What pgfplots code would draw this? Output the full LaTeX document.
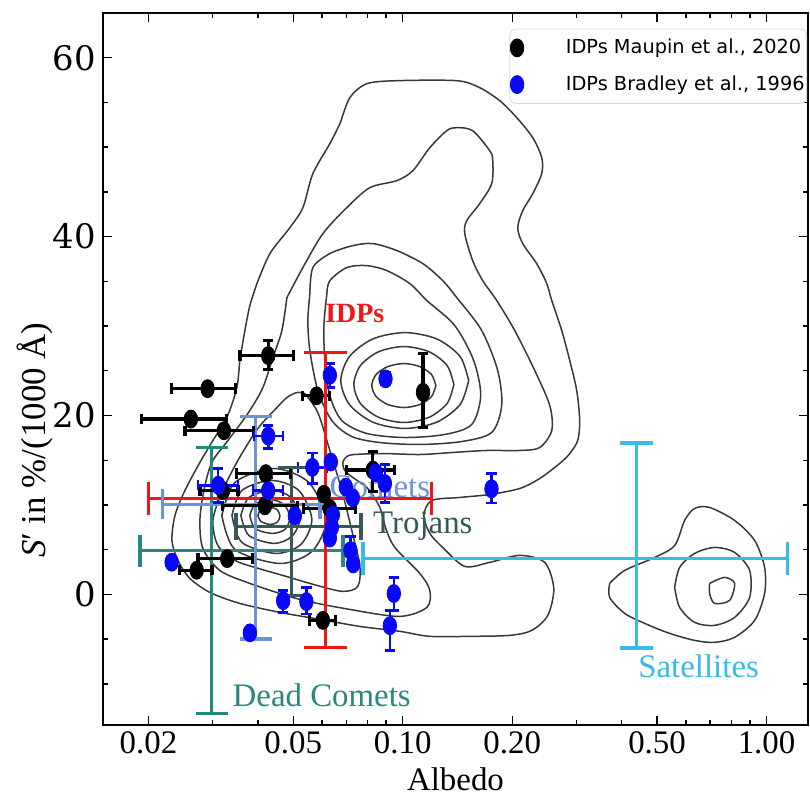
\documentclass[border=0pt]{standalone}
\usepackage{pgfplots}
\usepackage{pgfplotstable}
\pgfplotsset{compat=1.18}
\usepackage{fontspec}
\setmainfont{Liberation Serif}
\newfontfamily\legfont{DejaVu Sans}
\newfontfamily\yfont{DejaVu Serif}
\definecolor{idpred}{RGB}{238,22,22}
\definecolor{cometc}{RGB}{112,146,212}
\definecolor{trojc}{RGB}{55,88,88}
\definecolor{deadc}{RGB}{40,136,128}
\definecolor{satc}{RGB}{58,186,232}
\definecolor{ptblue}{RGB}{8,8,245}

% Maupin et al. 2020: albedo, S', x error minus/plus, y error minus/plus
\pgfplotstableread{
a s exm exp eym eyp
0.04268 26.7 0.0070 0.0073 1.6 1.7
0.02908 23.0 0.00592 0.00571 0 0
0.02616 19.6 0.0070 0.00664 0 0
0.03224 18.3 0.00704 0.00675 0 0
0.04205 13.5 0.00705 0.00721 0 0
0.03204 11.6 0.00434 0.0032 0 0
0.04179 9.9 0.00975 0.00969 0 0
0.05796 22.2 0.00482 0.00508 0 0
0.1137 22.6 0 0 3.9 4.3
0.08278 13.9 0.01258 0.01232 2.4 2.1
0.0607 11.2 0 0 0 0
0.06304 9.6 0.00956 0.01128 0 0
0.02714 2.7 0.00274 0.00275 0 0
0.03292 4.0 0.00556 0.00582 0 0
0.06032 -2.9 0.00476 0.00516 0 0
}\maupin

% Bradley et al. 1996
\pgfplotstableread{
a s exm exp eym eyp
0.06304 24.5 0 0 1.4 1.3
0.08968 24.1 0 0 0.7 0.7
0.04268 17.7 0.00369 0.00416 1.4 1.2
0.0311 12.2 0.00374 0.00414 1.9 1.9
0.04268 11.6 0.00394 0.00424 1.3 1.4
0.05644 14.2 0.00496 0.00542 1.8 1.6
0.06344 14.8 0 0 0 0
0.05052 8.8 0 0 0 0
0.06976 12.0 0 0 0 0
0.07292 10.8 0 0 0 0
0.06426 8.9 0 0 0 0
0.06384 7.5 0 0 0 0
0.06304 6.3 0 0 0 0
0.08434 13.6 0 0 0 0
0.0893 12.4 0 0 2.1 2.1
0.1754 11.8 0 0 1.6 1.7
0.07186 4.9 0 0 0 1.6
0.07306 3.4 0 0 0 0
0.04692 -0.7 0 0 1.3 1.15
0.05434 -0.8 0 0 1.4 1.6
0.0380 -4.3 0 0 0 0
0.02316 3.6 0 0 0 0
0.09452 0.1 0 0 1.9 1.8
0.09216 -3.5 0 0 2.8 1.7
}\bradley

\begin{document}
\begin{tikzpicture}
\begin{axis}[
  name=ax,
  scale only axis,
  width=352.5bp, height=356bp,
  xmode=log,
  xmin=0.015, xmax=1.3, ymin=-14.6, ymax=65,
  xtick={0.02,0.05,0.1,0.2,0.5,1},
  xticklabels={0.02,0.05,0.10,0.20,0.50,1.00},
  minor xtick={0.03,0.04,0.06,0.07,0.08,0.09,0.3,0.4,0.6,0.7,0.8,0.9},
  ytick={0,20,40,60},
  minor ytick={-10,-5,5,10,15,25,30,35,45,50,55,65},
  /pgf/number format/assume math mode=true,
  xticklabel style={font=\fontsize{16.5}{16.5}\selectfont},
  yticklabel style={font=\yfont\fontsize{17}{17}\selectfont},
  xlabel={Albedo},
  xlabel style={font=\fontsize{16.5}{16.5}\selectfont},
  ylabel={\textit{S}′ in \%/(1000 Å)},
  ylabel style={font=\fontsize{17.5}{17.5}\selectfont, at={([xshift=-34bp]rel axis cs:0,0.40)}, anchor=center},
  axis line style={line width=1bp},
  tick style={black, line width=0.7bp},
  major tick length=4.5bp, minor tick length=2.5bp,
  legend style={at={(rel axis cs:0.9986,0.978)}, anchor=north east,
    draw=black!15, rounded corners=3bp, fill=white,
    font=\legfont\fontsize{9.7}{12}\selectfont,
    inner xsep=0bp, inner ysep=4bp, row sep=7.5bp,
    nodes={inner sep=1bp}, cells={anchor=west}},
  legend image code/.code={\path[draw=none,fill=none] (0bp,-5bp) rectangle (27bp,5bp); \draw[#1] plot coordinates {(3.6bp,0bp)};},
  contour/.style={black!78, line width=0.75bp, smooth, tension=0.5, forget plot},
]
\addlegendimage{only marks, mark=*, black, mark size=4.5bp, mark options={xscale=0.75}}
\addlegendentry{IDPs Maupin et al., 2020}
\addlegendimage{only marks, mark=*, ptblue, mark size=4.5bp, mark options={xscale=0.75}}
\addlegendentry{IDPs Bradley et al., 1996}

% ---- density contours (albedo, S') ----
% outermost level
\addplot[contour] coordinates {(0.03974,34.75) (0.04314,38.10) (0.04895,41.00) (0.05315,43.24) (0.05663,47.04) (0.06304,50.39) (0.06716,52.62) (0.07155,55.53) (0.07966,57.09) (0.09633,57.43) (0.1408,57.43) (0.1628,56.65) (0.1848,55.19) (0.2058,53.30) (0.2277,51.06) (0.2410,48.83) (0.2410,47.04) (0.2277,44.80) (0.2137,42.90) (0.2071,41.00) (0.2137,39.22) (0.2335,36.98) (0.2488,34.75) (0.2568,32.85) (0.2736,29.50) (0.2878,26.14) (0.3008,22.79) (0.3065,19.44) (0.3027,17.21) (0.2878,15.75) (0.2701,14.64) (0.2380,12.96) (0.2097,11.84) (0.1734,11.17) (0.1435,10.84) (0.1202,10.50) (0.1143,8.83) (0.1187,6.82) (0.1288,5.25) (0.1481,3.13) (0.1734,3.58) (0.2097,4.36) (0.2456,3.58) (0.2601,0.67) (0.2504,-2.35) (0.2263,-4.02) (0.19685,-4.58) (0.1528,-4.69) (0.1187,-4.69) (0.09818,-4.13) (0.07621,-3.58) (0.05919,-2.79) (0.04596,-2.01) (0.03568,-1.01) (0.02951,0.22) (0.0260,1.79) (0.0241,3.80) (0.02321,6.03) (0.02366,8.83) (0.0252,11.62) (0.0277,14.75) (0.03008,17.21) (0.03286,19.78) (0.03501,23.13) (0.03568,26.14) (0.03683,29.50) (0.03801,32.29) (0.03974,34.75)};
% second level
\addplot[contour] coordinates {(0.04804,33.18) (0.05315,36.54) (0.06033,40.33) (0.0702,43.24) (0.0812,45.47) (0.09633,46.26) (0.1066,47.37) (0.1187,49.94) (0.1321,51.84) (0.1408,52.18) (0.1557,51.84) (0.1734,49.61) (0.1768,48.49) (0.1756,45.92) (0.1628,43.69) (0.1500,41.79) (0.1481,40.33) (0.1557,37.32) (0.1659,35.08) (0.1813,32.85) (0.2032,29.50) (0.2306,25.03) (0.2536,21.12) (0.2568,18.32) (0.2380,16.42) (0.2097,16.09) (0.1702,16.09) (0.1373,15.87) (0.1114,15.64) (0.08816,15.75) (0.07385,15.64) (0.0702,15.42) (0.06845,14.75) (0.06932,13.85) (0.07292,13.07) (0.08018,11.84) (0.0865,9.72) (0.08985,7.37) (0.09512,5.25) (0.1114,2.35) (0.1187,0.45) (0.1165,-1.45) (0.09818,-2.46) (0.07155,-1.68) (0.05215,-0.56) (0.03801,1.23) (0.03143,2.68) (0.02823,5.14) (0.0277,8.27) (0.02841,11.62) (0.02988,14.75) (0.03308,17.21) (0.03753,20.22) (0.04127,23.13) (0.04397,26.48) (0.04654,29.50) (0.04804,33.18)};
% rings of the upper (IDP-like) peak
\addplot[contour] coordinates {(0.05556,33.63) (0.05663,36.54) (0.06304,38.10) (0.07292,38.99) (0.08275,39.22) (0.09633,38.44) (0.1136,36.98) (0.1288,35.08) (0.1408,33.18) (0.1649,29.50) (0.1824,25.03) (0.1871,21.12) (0.1756,18.10) (0.1453,17.09) (0.1114,16.76) (0.0865,16.98) (0.07246,17.65) (0.06384,19.44) (0.05844,22.79) (0.05556,27.26) (0.05486,30.61) (0.05556,33.63)};
\addplot[contour] coordinates {(0.06188,33.63) (0.06304,35.08) (0.0702,36.54) (0.07966,36.76) (0.09043,36.20) (0.1046,34.75) (0.1165,32.85) (0.1390,30.06) (0.1567,26.14) (0.1638,22.23) (0.1547,18.99) (0.1305,17.88) (0.1013,17.54) (0.07966,17.99) (0.06801,19.44) (0.06304,22.23) (0.0611,26.14) (0.06072,30.06) (0.06188,33.63)};
\addplot[contour] coordinates {(0.1518,23.91) (0.1438,26.59) (0.1241,28.56) (0.1013,29.27) (0.08275,28.56) (0.07137,26.59) (0.06758,23.91) (0.07137,21.23) (0.08275,19.26) (0.1013,18.55) (0.1241,19.26) (0.1438,21.23) (0.1518,23.91)};
\addplot[contour] coordinates {(0.1382,23.46) (0.1324,25.59) (0.1180,27.14) (0.1007,27.71) (0.08595,27.14) (0.07655,25.59) (0.07338,23.46) (0.07655,21.34) (0.08595,19.79) (0.1007,19.22) (0.1180,19.79) (0.1324,21.34) (0.1382,23.46)};
\addplot[contour] coordinates {(0.1233,23.35) (0.1200,24.58) (0.1114,25.47) (0.1007,25.81) (0.09099,25.47) (0.0845,24.58) (0.08223,23.35) (0.0845,22.12) (0.09099,21.23) (0.1007,20.89) (0.1114,21.23) (0.1200,22.12) (0.1233,23.35)};
% rings of the lower (dense) peak
\addplot[contour] coordinates {(0.05383,22.46) (0.05117,22.57) (0.04804,22.01) (0.0451,20.89) (0.03999,18.55) (0.03523,14.97) (0.03183,11.40) (0.03008,8.27) (0.03103,5.47) (0.03457,3.80) (0.03924,3.02) (0.04684,2.12) (0.05808,1.01) (0.06845,0.34) (0.07525,0.89) (0.07621,3.24) (0.07246,7.15) (0.06801,11.62) (0.06304,16.09) (0.05844,20.33) (0.05383,22.46)};
\addplot[contour] coordinates {(0.03183,8.83) (0.03457,12.51) (0.04425,14.08) (0.05521,12.51) (0.06148,8.27) (0.05627,4.80) (0.04596,3.46) (0.03457,5.03) (0.03183,8.83)};
\addplot[contour] coordinates {(0.03393,8.83) (0.03613,11.62) (0.04369,12.74) (0.05182,11.62) (0.05627,8.38) (0.05248,5.59) (0.04481,4.58) (0.03613,5.81) (0.03393,8.83)};
\addplot[contour] coordinates {(0.0359,8.83) (0.03777,10.84) (0.04369,11.62) (0.04926,10.84) (0.05215,8.49) (0.04957,6.48) (0.04425,5.70) (0.03777,6.59) (0.0359,8.83)};
\addplot[contour] coordinates {(0.03801,8.83) (0.03924,10.06) (0.04314,10.61) (0.04714,10.06) (0.04895,8.60) (0.04744,7.26) (0.04369,6.82) (0.03924,7.37) (0.03801,8.83)};
\addplot[contour] coordinates {(0.03999,8.83) (0.04076,9.50) (0.04314,9.72) (0.0451,9.50) (0.04596,8.72) (0.0451,8.04) (0.04314,7.82) (0.04076,8.16) (0.03999,8.83)};
% satellites peak
\addplot[contour] coordinates {(0.3706,1.23) (0.4074,2.68) (0.4926,4.13) (0.5590,5.47) (0.5956,8.27) (0.6344,9.61) (0.6975,9.72) (0.8171,8.27) (0.9274,6.03) (0.9879,3.02) (0.9879,0.11) (0.9274,-2.91) (0.8171,-4.80) (0.7200,-5.36) (0.6344,-5.14) (0.5416,-4.36) (0.4624,-3.24) (0.4074,-2.12) (0.3706,-0.34) (0.3706,1.23)};
\addplot[contour] coordinates {(0.5590,0.78) (0.5770,3.02) (0.6344,4.58) (0.7200,5.25) (0.8171,4.69) (0.8985,2.68) (0.8985,-0.34) (0.8171,-2.57) (0.7200,-3.46) (0.6344,-3.13) (0.5770,-1.45) (0.5590,0.78)};
\addplot[contour] coordinates {(0.6975,1.23) (0.7671,1.90) (0.8171,1.23) (0.7916,-0.67) (0.7200,-1.01) (0.6975,0.11) (0.6975,1.23)};

% ---- population crosses ----
\addplot[forget plot, deadc, line width=1.75bp, mark=|, mark size=8bp, mark options={solid}] coordinates {(0.01895,4.9) (0.06844,4.9)};
\addplot[forget plot, deadc, line width=1.75bp, mark=-, mark size=8bp, mark options={solid}] coordinates {(0.02982,-13.3) (0.02982,16.4)};
\addplot[forget plot, trojc, line width=1.75bp, mark=|, mark size=6.75bp, mark options={solid}] coordinates {(0.03479,7.6) (0.07672,7.6)};
\addplot[forget plot, trojc, line width=1.75bp, mark=-, mark size=6.75bp, mark options={solid}] coordinates {(0.04948,-0.1) (0.04948,14.2)};
\addplot[forget plot, cometc, line width=1.75bp, mark=|, mark size=7.5bp, mark options={solid}] coordinates {(0.02188,10.06) (0.0592,10.06)};
\addplot[forget plot, cometc, line width=1.75bp, mark=-, mark size=8bp, mark options={solid}] coordinates {(0.0394,-5.0) (0.0394,19.9)};
\addplot[forget plot, satc, line width=1.75bp, mark=|, mark size=8.25bp, mark options={solid}] coordinates {(0.0777,4.0) (1.142,4.0)};
\addplot[forget plot, satc, line width=1.75bp, mark=-, mark size=8.25bp, mark options={solid}] coordinates {(0.4396,-6.0) (0.4396,16.9)};

% ---- labels ----
\node[text=cometc, font=\fontsize{16.5}{16.5}\selectfont] at (axis cs:0.0865,12.0) {Comets};
\node[text=trojc, font=\fontsize{16.5}{16.5}\selectfont] at (axis cs:0.1136,7.6) {Trojans};
\node[text=deadc, font=\fontsize{16.5}{16.5}\selectfont] at (axis cs:0.0599,-11.3) {Dead Comets};
\node[text=satc, font=\fontsize{16.5}{16.5}\selectfont] at (axis cs:0.6506,-8.0) {Satellites};
\node[text=idpred, font=\bfseries\fontsize{14}{14}\selectfont] at (axis cs:0.0738,31.4) {IDPs};

% ---- IDP data ----
\addplot[forget plot, only marks, mark=*, black, mark size=4.5bp, mark options={xscale=0.75},
  error bars/.cd, x dir=both, x explicit, y dir=both, y explicit,
  error bar style={line width=1.6bp, black},
  error mark options={rotate=90, mark size=2.6bp, line width=1.6bp, black}]
  table[x=a, y=s, x error minus=exm, x error plus=exp, y error minus=eym, y error plus=eyp] {\maupin};
\addplot[forget plot, only marks, mark=*, ptblue, mark size=4.5bp, mark options={xscale=0.75},
  error bars/.cd, x dir=both, x explicit, y dir=both, y explicit,
  error bar style={line width=1.3bp, ptblue},
  error mark options={rotate=90, mark size=2.6bp, line width=1.3bp, ptblue}]
  table[x=a, y=s, x error minus=exm, x error plus=exp, y error minus=eym, y error plus=eyp] {\bradley};

% ---- IDP population cross (on top) ----
\addplot[forget plot, idpred, line width=1.5bp, mark=|, mark size=8.25bp, mark options={solid}] coordinates {(0.0200,10.7) (0.1200,10.7)};
\addplot[forget plot, idpred, line width=1.5bp, mark=-, mark size=10.75bp, mark options={solid}] coordinates {(0.0614,-5.9) (0.0614,27.0)};
\end{axis}
\pgfresetboundingbox
\path[use as bounding box] ([xshift=-51.5bp,yshift=-37.5bp]ax.south west) rectangle ([xshift=1bp,yshift=6.5bp]ax.north east);
\end{tikzpicture}
\end{document}
